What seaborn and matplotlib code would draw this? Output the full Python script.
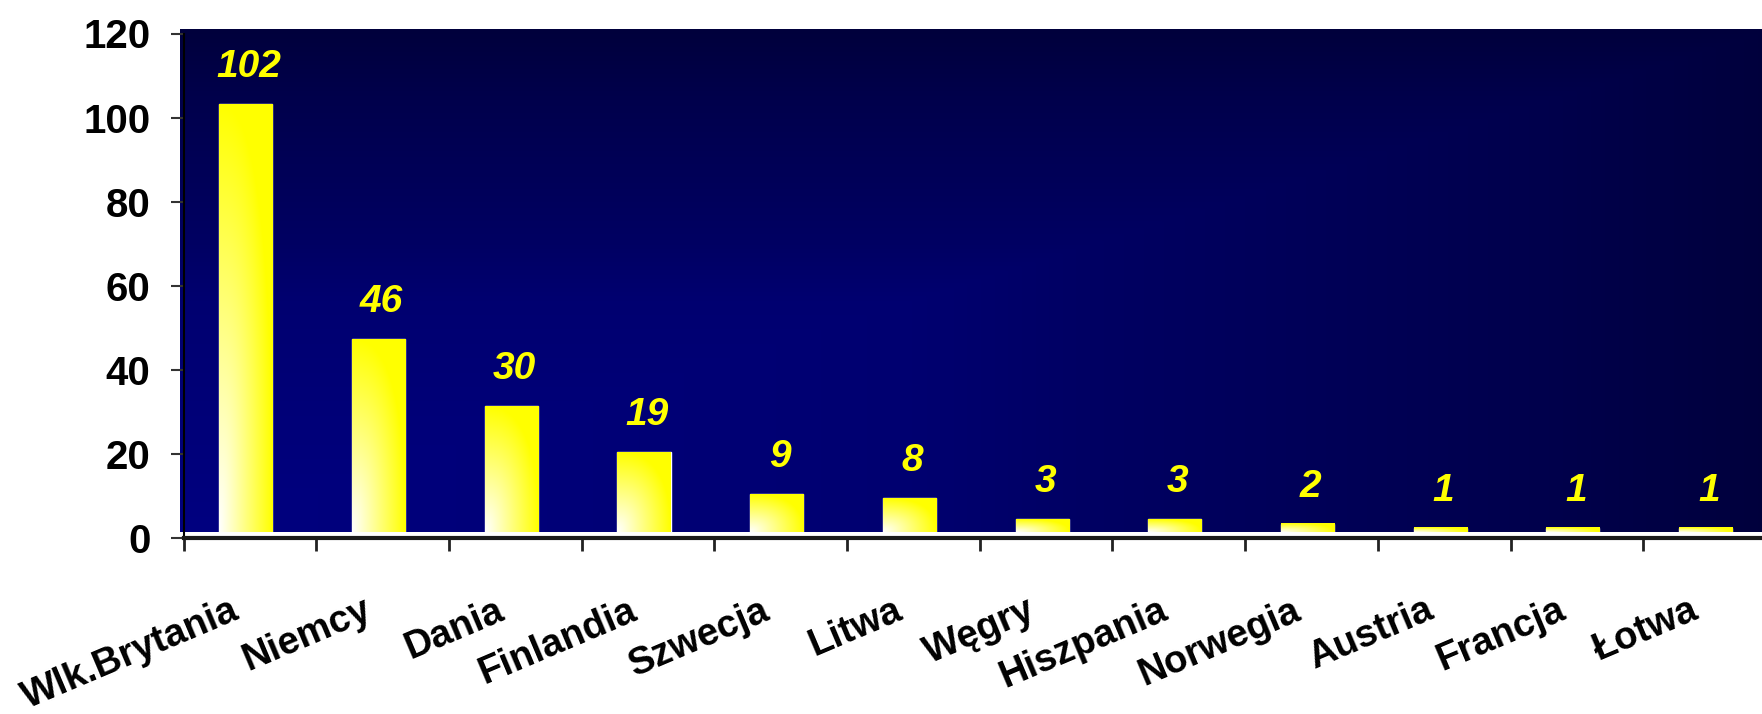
import numpy as np
import pandas as pd
import matplotlib
matplotlib.use("Agg")
import matplotlib.pyplot as plt
from matplotlib.transforms import ScaledTranslation
import seaborn as sns

# ---- data ----
categories = ["Wlk.Brytania", "Niemcy", "Dania", "Finlandia", "Szwecja", "Litwa",
              "Węgry", "Hiszpania", "Norwegia", "Austria", "Francja", "Łotwa"]
values = [102, 46, 30, 19, 9, 8, 3, 3, 2, 1, 1, 1]
yticks = [0, 20, 40, 60, 80, 100, 120]

sns.set_style("white")
plt.rcParams["font.family"] = ["Liberation Sans", "DejaVu Sans"]
plt.rcParams["text.color"] = "black"
plt.rcParams["xtick.color"] = "black"
plt.rcParams["ytick.color"] = "black"
plt.rcParams["xtick.labelcolor"] = "black"
plt.rcParams["ytick.labelcolor"] = "black"

W, H, DPI = 1762, 714, 100
fig = plt.figure(figsize=(W / DPI, H / DPI), dpi=DPI)
fig.patch.set_facecolor("white")

def px_axes(left, right, top, bottom):
    return [left / W, (H - bottom) / H, (right - left) / W, (bottom - top) / H]

# main plotting frame (gradient background + bars)
ax = fig.add_axes(px_axes(179.5, 1772, 29, 532))
df = pd.DataFrame({"country": categories, "value": values})
sns.barplot(data=df, x="country", y="value", ax=ax, color="#FFFF00",
            width=0.4, saturation=1, order=categories, zorder=2)

# background gradient ("from corner": bright at bottom-left)
ny, nx = 300, 600
u = np.linspace(0, 1, nx)[None, :]
v = np.linspace(0, 1, ny)[:, None]
t = np.maximum(u, v)
blue = np.interp(t, [0, 0.46, 0.58, 0.86, 1.0], [128, 112, 98, 76, 60]) / 255.0
bg = np.zeros((ny, nx, 3))
bg[..., 2] = blue
ax.imshow(bg, extent=[0, 1, 0, 1], transform=ax.transAxes, aspect="auto",
          origin="lower", zorder=0, interpolation="bilinear")

# bar gradient (white bottom-left -> yellow)
gy, gx = 200, 60
uu = np.linspace(0, 1, gx)[None, :]
vv = np.linspace(0, 1, gy)[:, None]
tt = np.clip((uu ** 2.5 + vv ** 2.5) ** (1 / 2.5), 0, 1)
grad = np.ones((gy, gx, 3))
grad[..., 2] = 1 - tt
for p in ax.patches:
    x0, y0 = p.get_x(), p.get_y()
    w, h = p.get_width(), p.get_height()
    ax.imshow(grad, extent=[x0, x0 + w, y0, y0 + h], aspect="auto",
              origin="lower", zorder=3, interpolation="bilinear")

for i, val in enumerate(values):
    ax.annotate(str(val), (i, val), xytext=(2.2, 19.5), textcoords="offset points",
                ha="center", va="baseline", color="#FFFF00", fontsize=28,
                fontweight="bold", fontstyle="italic", zorder=5)

ax.set_xlim(-0.5, 11.5)
ax.set_ylim(0, 120)
ax.set_axis_off()

# axis frame (offset slightly like the original)
ax2 = fig.add_axes(px_axes(183.5, 1776, 33.5, 538))
ax2.patch.set_visible(False)
ax2.set_xlim(-0.5, 11.5)
ax2.set_ylim(0, 120)
for s in ["top", "right"]:
    ax2.spines[s].set_visible(False)
ax2.spines["left"].set_color("black")
ax2.spines["left"].set_linewidth(1.5)
ax2.spines["bottom"].set_color("#1a1a1a")
ax2.spines["bottom"].set_linewidth(3)

ax2.set_yticks(yticks)
ax2.set_yticklabels([str(y) for y in yticks], fontsize=29, fontweight="bold",
                    color="black")
ax2.tick_params(axis="y", length=9.4, width=1.5, color="#333333", pad=14.5,
                left=True)

ax2.set_xticks(np.arange(-0.5, 11.0, 1.0))
ax2.set_xticklabels([])
ax2.set_xticks(np.arange(len(categories)), minor=True)
ax2.set_xticklabels(categories, minor=True, rotation=23, ha="right",
                    va="top", rotation_mode="anchor", fontsize=27.5,
                    fontweight="bold", color="black")
ax2.tick_params(axis="x", which="major", length=9.4, width=2, color="#222222",
                bottom=True)
ax2.tick_params(axis="x", which="minor", length=0, pad=39, bottom=True)
off = ScaledTranslation(-20 / DPI, 0, fig.dpi_scale_trans)
for lab in ax2.get_xticklabels(minor=True):
    lab.set_transform(lab.get_transform() + off)

fig.savefig("out.png", dpi=DPI, facecolor="white")
